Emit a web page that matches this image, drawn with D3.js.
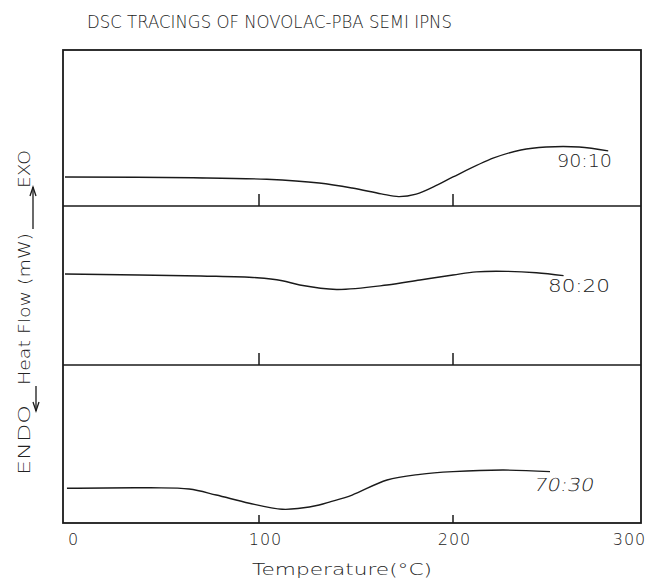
<!DOCTYPE html>
<html>
<head>
<meta charset="utf-8">
<script src="https://cdn.jsdelivr.net/npm/d3@7"></script>
<style>
  html, body { margin: 0; padding: 0; background: #fff; }
  svg { display: block; }
  text { font-family: "DejaVu Sans", sans-serif; font-weight: 200; fill: #222; }
</style>
</head>
<body>
<svg id="chart" width="649" height="582"></svg>
<script>
// ---- data ----
const title = "DSC TRACINGS OF NOVOLAC-PBA SEMI IPNS";
const xLabel = "Temperature(°C)";
const yLabelParts = ["ENDO", "Heat Flow (mW)", "EXO"];
const xTicks = [0, 100, 200, 300];
const seriesLabels = ["90:10", "80:20", "70:30"];

const temps1 = [0, 66, 104, 131, 148, 163, 172, 181, 192, 200, 221, 235, 248, 265, 280];
const flow1  = [1.86, 1.81, 1.71, 1.47, 1.15, 0.78, 0.60, 0.76, 1.35, 1.86, 3.08, 3.59, 3.78, 3.78, 3.53];

const temps2 = [0, 70, 99, 112, 121, 140, 166, 183, 200, 212, 228, 243, 257];
const flow2  = [5.72, 5.60, 5.49, 5.30, 5.03, 4.75, 5.03, 5.35, 5.66, 5.86, 5.89, 5.80, 5.62];

const temps3 = [1, 44, 64, 78, 95, 112, 121, 131, 137, 148, 166, 183, 200, 226, 250];
const flow3  = [2.20, 2.23, 2.15, 1.77, 1.25, 0.87, 0.93, 1.14, 1.35, 1.77, 2.72, 3.08, 3.25, 3.35, 3.25];

// ---- layout ----
const svg = d3.select("#chart");
const frame = { left: 63, right: 641, top: 50, bottom: 523 };
const panelEdges = [50, 206, 365, 523];
const x = d3.scaleLinear().domain([0, 300]).range([65, 647]);

const series = [
  { t: temps1, v: flow1, label: seriesLabels[0], lx: 557, ly: 167, italic: false, lw: 55 },
  { t: temps2, v: flow2, label: seriesLabels[1], lx: 548, ly: 292, italic: false, lw: 62 },
  { t: temps3, v: flow3, label: seriesLabels[2], lx: 533, ly: 491, italic: true,  lw: 60 }
];

const ink = "#1a1a1a";

// title
svg.append("text")
  .attr("x", 87).attr("y", 28)
  .attr("font-size", 18)
  .attr("textLength", 365).attr("lengthAdjust", "spacingAndGlyphs")
  .text(title);

// panels
series.forEach((s, i) => {
  const y = d3.scaleLinear().domain([0, 10]).range([panelEdges[i + 1], panelEdges[i]]);
  const line = d3.line()
    .x((d, j) => x(s.t[j]))
    .y((d, j) => y(s.v[j]))
    .curve(d3.curveCatmullRom.alpha(0.5));
  svg.append("path")
    .datum(s.t)
    .attr("d", line)
    .attr("fill", "none")
    .attr("stroke", ink)
    .attr("stroke-width", 1.4);

  // ticks at 100 and 200 rising from panel bottom
  const tickLen = i === 2 ? 8 : 12;
  [100, 200].forEach(tv => {
    svg.append("line")
      .attr("x1", x(tv)).attr("x2", x(tv))
      .attr("y1", panelEdges[i + 1]).attr("y2", panelEdges[i + 1] - tickLen)
      .attr("stroke", ink).attr("stroke-width", 1.5);
  });

  const lbl = svg.append("text")
    .attr("font-size", 18)
    .attr("textLength", s.lw).attr("lengthAdjust", "spacingAndGlyphs")
    .text(s.label);
  if (s.italic) {
    lbl.attr("transform", `translate(${s.lx}, ${s.ly}) skewX(-12)`);
  } else {
    lbl.attr("x", s.lx).attr("y", s.ly);
  }
});

// frame and dividers
svg.append("rect")
  .attr("x", frame.left).attr("y", frame.top)
  .attr("width", frame.right - frame.left).attr("height", frame.bottom - frame.top)
  .attr("fill", "none").attr("stroke", ink).attr("stroke-width", 1.8);
[panelEdges[1], panelEdges[2]].forEach(yy => {
  svg.append("line")
    .attr("x1", frame.left).attr("x2", frame.right)
    .attr("y1", yy).attr("y2", yy)
    .attr("stroke", ink).attr("stroke-width", 1.6);
});

// x axis tick labels (hand-lettered offsets)
const labelShift = { 0: 8, 100: 6, 200: 1, 300: -18 };
const axis = d3.axisBottom(x).tickValues(xTicks).tickSize(0).tickPadding(0);
const gAxis = svg.append("g").attr("transform", `translate(0, ${frame.bottom + 10})`).call(axis);
gAxis.select(".domain").remove();
gAxis.selectAll(".tick text")
  .attr("font-size", 16)
  .attr("font-family", "DejaVu Sans, sans-serif")
  .attr("fill", "#222")
  .attr("dx", d => labelShift[d])
  .attr("dy", "0.75em")
  .attr("letter-spacing", 1);

// x label
svg.append("text")
  .attr("x", 252).attr("y", 575)
  .attr("font-size", 16)
  .attr("textLength", 180).attr("lengthAdjust", "spacingAndGlyphs")
  .text(xLabel);

// y label parts (rotated)
const yParts = [
  { txt: yLabelParts[0], y0: 475, y1: 405 },
  { txt: yLabelParts[1], y0: 385, y1: 233 },
  { txt: yLabelParts[2], y0: 188, y1: 150 }
];
yParts.forEach(p => {
  svg.append("text")
    .attr("transform", `translate(30, ${p.y0}) rotate(-90)`)
    .attr("font-size", 16)
    .attr("textLength", p.y0 - p.y1).attr("lengthAdjust", "spacingAndGlyphs")
    .text(p.txt);
});

// arrows
function arrow(x0, yFrom, yTo) {
  const dir = Math.sign(yTo - yFrom);
  svg.append("line")
    .attr("x1", x0).attr("x2", x0).attr("y1", yFrom).attr("y2", yTo)
    .attr("stroke", ink).attr("stroke-width", 1.3);
  svg.append("path")
    .attr("d", `M${x0 - 3},${yTo - dir * 9} L${x0},${yTo} L${x0 + 3},${yTo - dir * 9}`)
    .attr("fill", "none").attr("stroke", ink).attr("stroke-width", 1.3);
}
arrow(33, 229, 187);
arrow(36, 386, 411);
</script>
</body>
</html>
